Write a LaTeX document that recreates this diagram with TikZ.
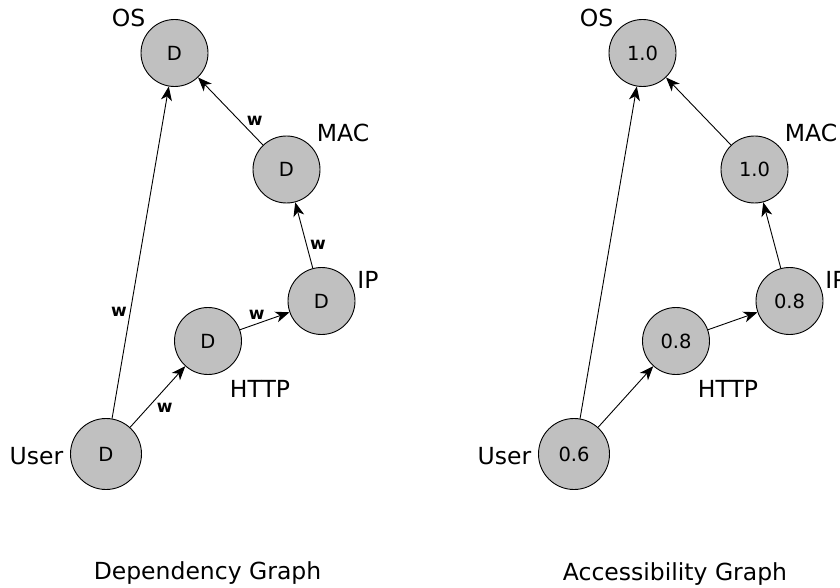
\documentclass[tikz,border=0pt]{standalone}
\usepackage{fontspec}
\setmainfont{DejaVu Sans}
\usetikzlibrary{arrows.meta}
\definecolor{nodegray}{RGB}{192,192,192}
\begin{document}
\begin{tikzpicture}[x=1pt,y=-1pt,
  vnode/.style={circle,draw=black,line width=0.9pt,fill=nodegray,minimum size=67pt,inner sep=0pt,font=\fontsize{19.5}{19.5}\selectfont},
  bignode/.style={vnode,minimum size=71pt},
  lab/.style={font=\fontsize{23.5}{23.5}\selectfont,inner sep=0pt,anchor=base},
  wlab/.style={font=\fontsize{17}{17}\selectfont\bfseries,inner sep=1pt},
  conn/.style={line width=0.9pt,-{Stealth[length=14pt,width=11pt,inset=4pt]}}]
\clip (0,0) rectangle (840,588);
% ---------- Dependency graph ----------
\begin{scope}
\node[vnode] (os1) at (174.5,53) {D};
\node[vnode] (mac1) at (286.5,169.5) {D};
\node[vnode] (ip1) at (321.5,301) {D};
\node[vnode] (http1) at (208,341) {D};
\node[bignode] (user1) at (106,454) {D};
\node[lab] (os1l) at (128.5,27) {OS};
\node[lab] (mac1l) at (343,142) {MAC};
\node[lab] (ip1l) at (368,288) {IP};
\node[lab] (http1l) at (260,397) {HTTP};
\node[lab] (user1l) at (36.5,464) {User};
\node[lab] (cap1) at (207.5,579) {Dependency Graph};
\draw[conn] (user1) -- node[wlab,pos=0.32,left=2pt] (w1) {w} (os1);
\draw[conn] (mac1) -- node[wlab,pos=0.27,anchor=south west] (w2) {w} (os1);
\draw[conn] (ip1) -- node[wlab,pos=0.35,right=2pt] (w3) {w} (mac1);
\draw[conn] (http1) -- node[wlab,pos=0.34,above=3pt] (w4) {w} (ip1);
\draw[conn] (user1) -- node[wlab,pos=0.44,below right=1pt] (w5) {w} (http1);
\end{scope}
% ---------- Accessibility graph ----------
\begin{scope}[xshift=468pt]
\node[vnode] (os2) at (174.5,53) {1.0};
\node[vnode] (mac2) at (286.5,169.5) {1.0};
\node[vnode] (ip2) at (321.5,301) {0.8};
\node[vnode] (http2) at (208,341) {0.8};
\node[bignode] (user2) at (106,454) {0.6};
\node[lab] (os2l) at (128.5,27) {OS};
\node[lab] (mac2l) at (343,142) {MAC};
\node[lab] (ip2l) at (368,288) {IP};
\node[lab] (http2l) at (260,397) {HTTP};
\node[lab] (user2l) at (36.5,464) {User};
\node[lab] (cap2) at (207,580) {Accessibility Graph};
\draw[conn] (user2) -- (os2);
\draw[conn] (mac2) -- (os2);
\draw[conn] (ip2) -- (mac2);
\draw[conn] (http2) -- (ip2);
\draw[conn] (user2) -- (http2);
\end{scope}
\end{tikzpicture}
\end{document}
